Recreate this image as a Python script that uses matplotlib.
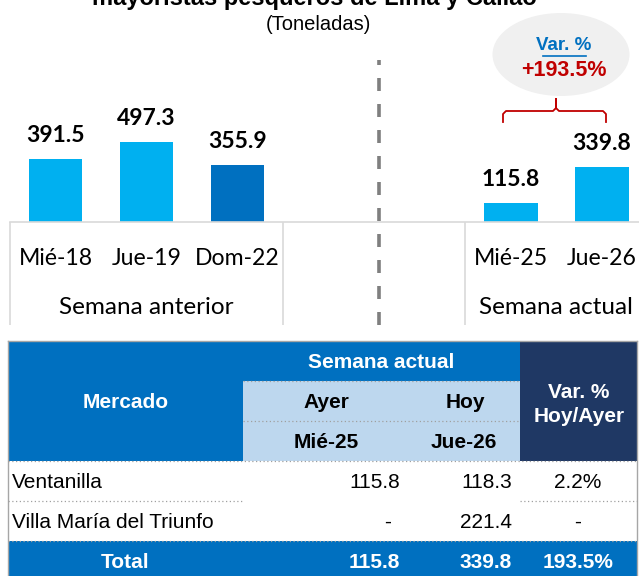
import numpy as np
import matplotlib
matplotlib.use("Agg")
import matplotlib.pyplot as plt
from matplotlib.patches import Ellipse, Rectangle

# Chart data
days = ['Mié-18', 'Jue-19', 'Dom-22', '', '', 'Mié-25', 'Jue-26']
volumes = [391.5, 497.3, 355.9, None, None, 115.8, 339.8]
bar_colors = ['#00B0F0', '#00B0F0', '#0070C0', None, None, '#00B0F0', '#00B0F0']
groups = ['Semana anterior', 'Semana actual']
group_centers = [1, 5.5]
var_total = 193.5

# Table data
mercados = ['Ventanilla', 'Villa María del Triunfo']
ayer = [115.8, None]
hoy = [118.3, 221.4]
var_pct = [2.2, None]
total_ayer = 115.8
total_hoy = 339.8

W, H = 639, 576
fig = plt.figure(figsize=(W / 100, H / 100), dpi=100)

CHART_FONT = 'Lato'
TABLE_FONT = 'Liberation Sans'

# ---- bar chart ----
base_y = 222          # baseline pixel row
left_px = 10
ax = fig.add_axes([left_px / W, (H - base_y) / H, (W - left_px) / W, base_y / H])
ax.set_xlim(-0.5, 6.41)
ax.set_ylim(0, 1379)
ax.patch.set_alpha(0)

xs = [i for i, v in enumerate(volumes) if v is not None]
vals = [volumes[i] for i in xs]
cols = [bar_colors[i] for i in xs]
ax.bar(xs, vals, width=0.59, color=cols, zorder=2)
for x, v in zip(xs, vals):
    ax.annotate(f"{v:.1f}", (x, v), xytext=(0, 17), textcoords='offset points',
                ha='center', va='center', fontsize=16.5, fontweight='bold',
                family=CHART_FONT, color='black')

for s in ['top', 'right', 'left']:
    ax.spines[s].set_visible(False)
ax.spines['bottom'].set_color('#D9D9D9')
ax.spines['bottom'].set_linewidth(1.2)
ax.set_yticks([])
ax.set_xticks(range(len(days)))
ax.set_xticklabels(days, family=CHART_FONT, fontsize=16.6)
ax.tick_params(axis='x', length=0, pad=19)

trans = ax.get_xaxis_transform()
sep_bottom = -(325 - base_y) / base_y
ax.vlines([-0.5, 2.5, 4.5], sep_bottom, 0, transform=trans, colors='#D9D9D9',
          lw=1.2, clip_on=False)
for g, c in zip(groups, group_centers):
    ax.text(c, -(308 - base_y) / base_y, g, transform=trans, ha='center', va='center',
            family=CHART_FONT, fontsize=17.5)

# dashed divider between weeks
ax.vlines([3.555], sep_bottom, (base_y - 60) / base_y, transform=trans, colors='#7F7F7F',
          lw=2.6, linestyles=(0, (3.6, 3.6)), clip_on=False)

# ---- overlay in pixel coords ----
ov = fig.add_axes([0, 0, 1, 1])
ov.set_xlim(0, W)
ov.set_ylim(H, 0)
ov.axis('off')
ov.patch.set_alpha(0)

ov.text(314, 5, 'mayoristas pesqueros de Lima y Callao', ha='center', va='baseline',
        family=TABLE_FONT, fontsize=17, fontweight='bold')
ov.text(318, 24, '(Toneladas)', ha='center', va='center', family=TABLE_FONT, fontsize=14.5)

ov.add_patch(Ellipse((561, 54.5), 137, 83, facecolor='#F0F0F0', edgecolor='none'))
ov.text(564, 46, 'Var. %', ha='center', va='center', family=TABLE_FONT, fontsize=13.5,
        fontweight='bold', color='#0070C0')
ov.plot([543, 586], [55.5, 55.5], color='#0070C0', lw=1.2)
ov.text(564, 71, f"+{var_total:.1f}%", ha='center', va='center', family=TABLE_FONT,
        fontsize=15.5, fontweight='bold', color='#C00000')

# curly bracket over the current week
bx = [503, 503, 506, 553, 556, 556, 556, 559, 603, 606, 606]
by = [122, 114, 111, 111, 108, 99, 108, 111, 111, 114, 122]
ov.plot(bx, by, color='#C00000', lw=1.3, solid_joinstyle='round')

# ---- table ----
T_L, T_R = 8, 637
C1, C3 = 243, 520
blue = '#0070C0'
navy = '#1F3864'
light = '#BDD7EE'

ov.add_patch(Rectangle((T_L, 341), C3 - T_L, 120, facecolor=blue, edgecolor='none'))
ov.add_patch(Rectangle((C1, 381), C3 - C1, 80, facecolor=light, edgecolor='none'))
ov.add_patch(Rectangle((C3, 341), T_R - C3, 120, facecolor=navy, edgecolor='none'))
ov.add_patch(Rectangle((T_L, 541), T_R - T_L, 40, facecolor=blue, edgecolor='none'))

ov.plot([T_L, T_R], [341, 341], color='#A6A6A6', lw=1)
ov.plot([T_L, T_L], [341, 576], color='#A6A6A6', lw=1)
ov.plot([T_R, T_R], [341, 576], color='#A6A6A6', lw=1)

dot = dict(color='#A0A0A0', lw=0.9, linestyle=(0, (1, 2)))
ov.plot([C1, C3], [381, 381], **dot)
ov.plot([C1, C3], [421, 421], **dot)
ov.plot([T_L, T_R], [461, 461], **dot)
ov.plot([T_L, C1], [501, 501], **dot)
ov.plot([C3, T_R], [501, 501], **dot)
ov.plot([T_L, T_R], [541, 541], **dot)

hdr = dict(family=TABLE_FONT, fontsize=15, fontweight='bold', ha='center', va='center')
ov.text(126, 403, 'Mercado', color='white', **hdr)
ov.text(381, 362, 'Semana actual', color='white', **hdr)
ov.text(326, 402, 'Ayer', color='black', **hdr)
ov.text(465, 402, 'Hoy', color='black', **hdr)
ov.text(326, 442, 'Mié-25', color='black', **hdr)
ov.text(464, 442, 'Jue-26', color='black', **hdr)
ov.text(579, 392, 'Var. %', color='white', **hdr)
ov.text(579, 416, 'Hoy/Ayer', color='white', **hdr)

cell = dict(family=TABLE_FONT, fontsize=15, va='center', color='black')
AYER_R, HOY_R, VAR_C = 400, 512, 578


def num(v, suffix=''):
    return '-' if v is None else f"{v:.1f}{suffix}"


for i, m in enumerate(mercados):
    yc = 482 + 40 * i
    ov.text(12, yc, m, ha='left', **cell)
    if ayer[i] is None:
        ov.text(388, yc, '-', ha='center', **cell)
    else:
        ov.text(AYER_R, yc, num(ayer[i]), ha='right', **cell)
    ov.text(HOY_R, yc, num(hoy[i]), ha='right', **cell)
    ov.text(VAR_C, yc, num(var_pct[i], '%'), ha='center', **cell)

tot = dict(family=TABLE_FONT, fontsize=15, fontweight='bold', va='center', color='white')
ov.text(125, 562, 'Total', ha='center', **tot)
ov.text(AYER_R, 562, num(total_ayer), ha='right', **tot)
ov.text(HOY_R, 562, num(total_hoy), ha='right', **tot)
ov.text(VAR_C, 562, num(var_total, '%'), ha='center', **tot)

fig.savefig('out.png', dpi=100)
